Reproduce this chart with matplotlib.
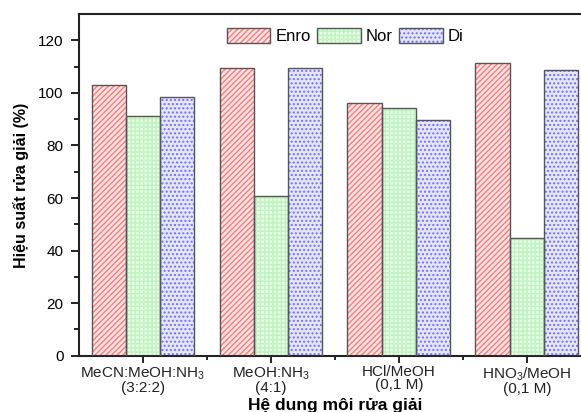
import matplotlib
matplotlib.use("Agg")
import matplotlib.pyplot as plt
import numpy as np
from matplotlib.patches import Patch
from matplotlib.legend_handler import HandlerTuple
from matplotlib.ticker import FixedLocator

plt.rcParams['font.family'] = ['Liberation Sans', 'DejaVu Sans']
plt.rcParams['mathtext.fontset'] = 'custom'
plt.rcParams['mathtext.rm'] = 'Liberation Sans'
plt.rcParams['mathtext.it'] = 'Liberation Sans'
plt.rcParams['hatch.linewidth'] = 1.0

categories = ['MeCN:MeOH:NH$_3$\n(3:2:2)', 'MeOH:NH$_3$\n(4:1)', 'HCl/MeOH\n(0,1 M)', 'HNO$_3$/MeOH\n(0,1 M)']
series = ['Enro', 'Nor', 'Di']
enro = [103.1, 109.4, 96.1, 111.4]
nor = [91.3, 60.6, 94.4, 44.9]
di = [98.3, 109.4, 89.8, 108.6]
values = [enro, nor, di]

faces = ['#ffe6e6', '#e6ffe6', '#e6e6ff']
hatchcols = ['#ff7878', '#bff2bf', '#7070ff']
hatches = ['//////', '++++', '....']

fig = plt.figure(figsize=(5.81, 4.12), dpi=100)
ax = fig.add_axes([0.136, 0.1367, 0.881, 0.829])

x = np.arange(1, len(categories) + 1)
w = 0.268
handles = []
for i, (vals, fc, hc, h) in enumerate(zip(values, faces, hatchcols, hatches)):
    pos = x + (i - 1) * w
    ax.bar(pos, vals, w, facecolor=fc, edgecolor=hc, hatch=h, linewidth=0, zorder=2)
    ax.bar(pos, vals, w, fill=False, edgecolor='#555555', linewidth=1.0, zorder=3)
    p1 = Patch(facecolor=fc, edgecolor=hc, hatch=h, linewidth=0)
    p2 = Patch(fill=False, edgecolor='#555555', linewidth=1.0)
    handles.append((p1, p2))

ax.set_xlim(0.5, 4.5)
ax.set_ylim(0, 130)
ax.yaxis.set_major_locator(FixedLocator([0, 20, 40, 60, 80, 100, 120]))
ax.yaxis.set_minor_locator(FixedLocator([10, 30, 50, 70, 90, 110]))
ax.set_xticks(x)
ax.set_xticklabels(categories, fontsize=11, color='#222222', linespacing=0.9)
ax.xaxis.set_minor_locator(FixedLocator([1.5, 2.5, 3.5]))
ax.tick_params(axis='y', which='major', direction='out', length=6, width=1.2, labelsize=11, pad=5)
ax.tick_params(axis='y', which='minor', direction='out', length=3.5, width=1.2)
ax.tick_params(axis='x', which='major', direction='out', length=5, width=1.2, pad=2)
ax.tick_params(axis='x', which='minor', direction='out', length=3, width=1.2)
for s in ax.spines.values():
    s.set_linewidth(1.5)
    s.set_color('#222222')

ax.set_ylabel('Hiệu suất rửa giải (%)', fontsize=11.5, fontweight='bold', labelpad=7)
ax.set_xlabel('Hệ dung môi rửa giải', fontsize=12.5, fontweight='bold', labelpad=1.5)

ax.legend(handles, series, handler_map={tuple: HandlerTuple(ndivide=1, pad=0)},
          ncol=3, frameon=False, loc='center', bbox_to_anchor=(0.52, 0.936),
          fontsize=12, handlelength=2.6, handleheight=1.0, columnspacing=0.4,
          handletextpad=0.3, borderaxespad=0)

fig.savefig('out.png', dpi=100)
